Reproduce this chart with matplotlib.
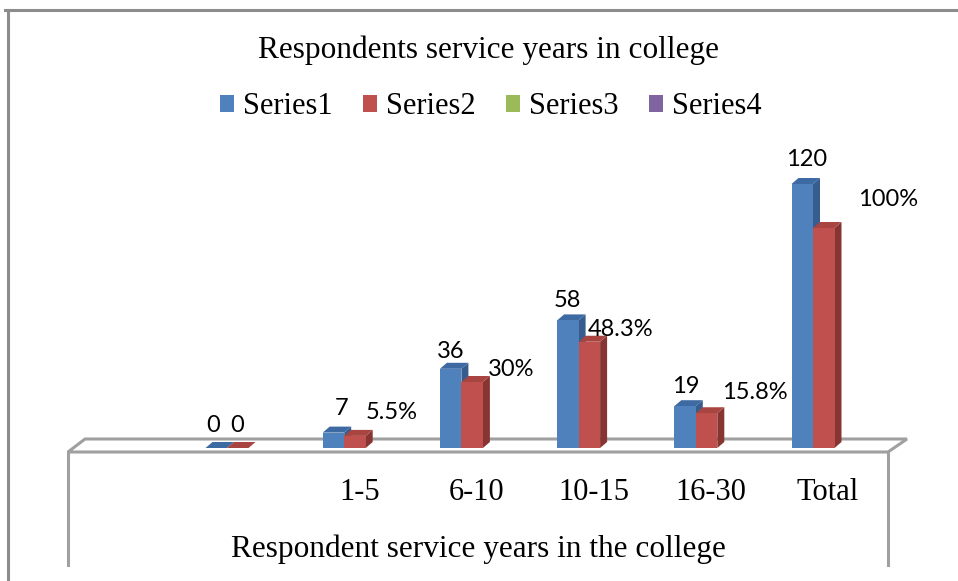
import matplotlib
matplotlib.use("Agg")
import matplotlib.pyplot as plt
from matplotlib.patches import Polygon, Rectangle
from matplotlib.lines import Line2D

# ---- data ----
categories = ["", "1-5", "6-10", "10-15", "16-30", "Total"]
series1 = [0, 7, 36, 58, 19, 120]
series2 = [0, 5.5, 30, 48.3, 15.8, 100]
series2_labels = ["0", "5.5%", "30%", "48.3%", "15.8%", "100%"]
legend_names = ["Series1", "Series2", "Series3", "Series4"]

# label placement (pixel offsets from the top of each bar)
s1_dx = [-3, 8, 0, 0, 1, 4]
s1_dy = [22, 24, 17, 20, 20, 24]
s2_dx = [-1, 37, 39, 31, 48, 64]
s2_dy = [22, 23, 12, 12, 21, 28]

# ---- style ----
front_cols = ["#4F81BD", "#C0504D", "#9BBB59", "#8064A2"]
top_cols = ["#3E6AA3", "#A94541"]
side_cols = ["#365D8E", "#873532"]
edge_gray = "#A0A0A0"
serif = "Liberation Serif"
sans = "Lato"

W, H = 958, 581
fig = plt.figure(figsize=(W / 100, H / 100), dpi=100)
ax = fig.add_axes([0, 0, 1, 1])
ax.set_axis_off()

# axis scaling: category spacing and value scale in pixels
px_cat = 117.2
px_val = 2.2
x0_px = 227.0      # pixel column of first category
base_px = 448.0    # pixel row (from top) of value 0
ax.set_xlim(-x0_px / px_cat, (W - x0_px) / px_cat)
ax.set_ylim(-(H - base_px) / px_val, base_px / px_val)


def px2x(p):
    return (p - x0_px) / px_cat


def px2y(p):
    return (base_px - p) / px_val


# floor of the 3-D plot area
floor = Polygon([(px2x(68), px2y(452)), (px2x(888), px2y(452)),
                 (px2x(907), px2y(439)), (px2x(85), px2y(439))],
                closed=True, facecolor="white", edgecolor=edge_gray,
                linewidth=2.2, zorder=1)
ax.add_patch(floor)
for xp in (68, 888):
    ax.add_line(Line2D([px2x(xp), px2x(xp)], [px2y(452), px2y(565)],
                       color=edge_gray, linewidth=2.2, zorder=1))

bw = 21.5 / px_cat          # bar width in category units
ddx = 7 / px_cat            # depth shift (x)
ddy = 6 / px_val            # depth shift (y)

for i, (v1, v2) in enumerate(zip(series1, series2)):
    for k, (v, left) in enumerate(((v1, i - bw), (v2, i))):
        z = 3 + 2 * k
        right = left + bw
        side = Polygon([(right, 0), (right, v), (right + ddx, v + ddy),
                        (right + ddx, ddy)], closed=True,
                       facecolor=side_cols[k], edgecolor="none", zorder=z)
        top = Polygon([(left, v), (right, v), (right + ddx, v + ddy),
                       (left + ddx, v + ddy)], closed=True,
                      facecolor=top_cols[k], edgecolor="none", zorder=z)
        ax.add_patch(side)
        ax.add_patch(top)
        ax.bar(left, v, width=bw, align="edge", color=front_cols[k],
               edgecolor="none", zorder=z + 0.5)

# value labels
lab_kw = dict(fontsize=17, family=sans, color="black", ha="center",
              va="center", zorder=10)
for i, (v1, v2) in enumerate(zip(series1, series2)):
    ax.text(i - bw / 2 + s1_dx[i] / px_cat, v1 + s1_dy[i] / px_val,
            str(v1), **lab_kw)
    ax.text(i + bw / 2 + s2_dx[i] / px_cat, v2 + s2_dy[i] / px_val,
            series2_labels[i], **lab_kw)

# category labels
for i, c in enumerate(categories):
    ax.text(i + 15 / px_cat, px2y(492), c, fontsize=22, family=serif,
            ha="center", va="center", zorder=10)

ax.text(px2x(478), px2y(549), "Respondent service years in the college",
        fontsize=22.5, family=serif, ha="center", va="center", zorder=10)

fig.text(488 / W, 1 - 50 / H, "Respondents service years in college",
         fontsize=22.5, family=serif, ha="center", va="center")

handles = [Rectangle((0, 0), 1, 1, facecolor=c, edgecolor="none")
           for c in front_cols]
fig.legend(handles, legend_names, loc="center", ncol=4,
           bbox_to_anchor=(491 / W, 1 - 107 / H), frameon=False,
           prop={"family": serif, "size": 22}, handlelength=0.45,
           handleheight=0.45, handletextpad=0.3, columnspacing=1.0)

# outer chart border
fig.add_artist(Line2D([5 / W, 1], [1 - 10 / H, 1 - 10 / H],
                      color="#8C8C8C", linewidth=2.2))
fig.add_artist(Line2D([8 / W, 8 / W], [0, 1 - 10 / H],
                      color="#8C8C8C", linewidth=2.2))

fig.savefig("out.png", dpi=100)
